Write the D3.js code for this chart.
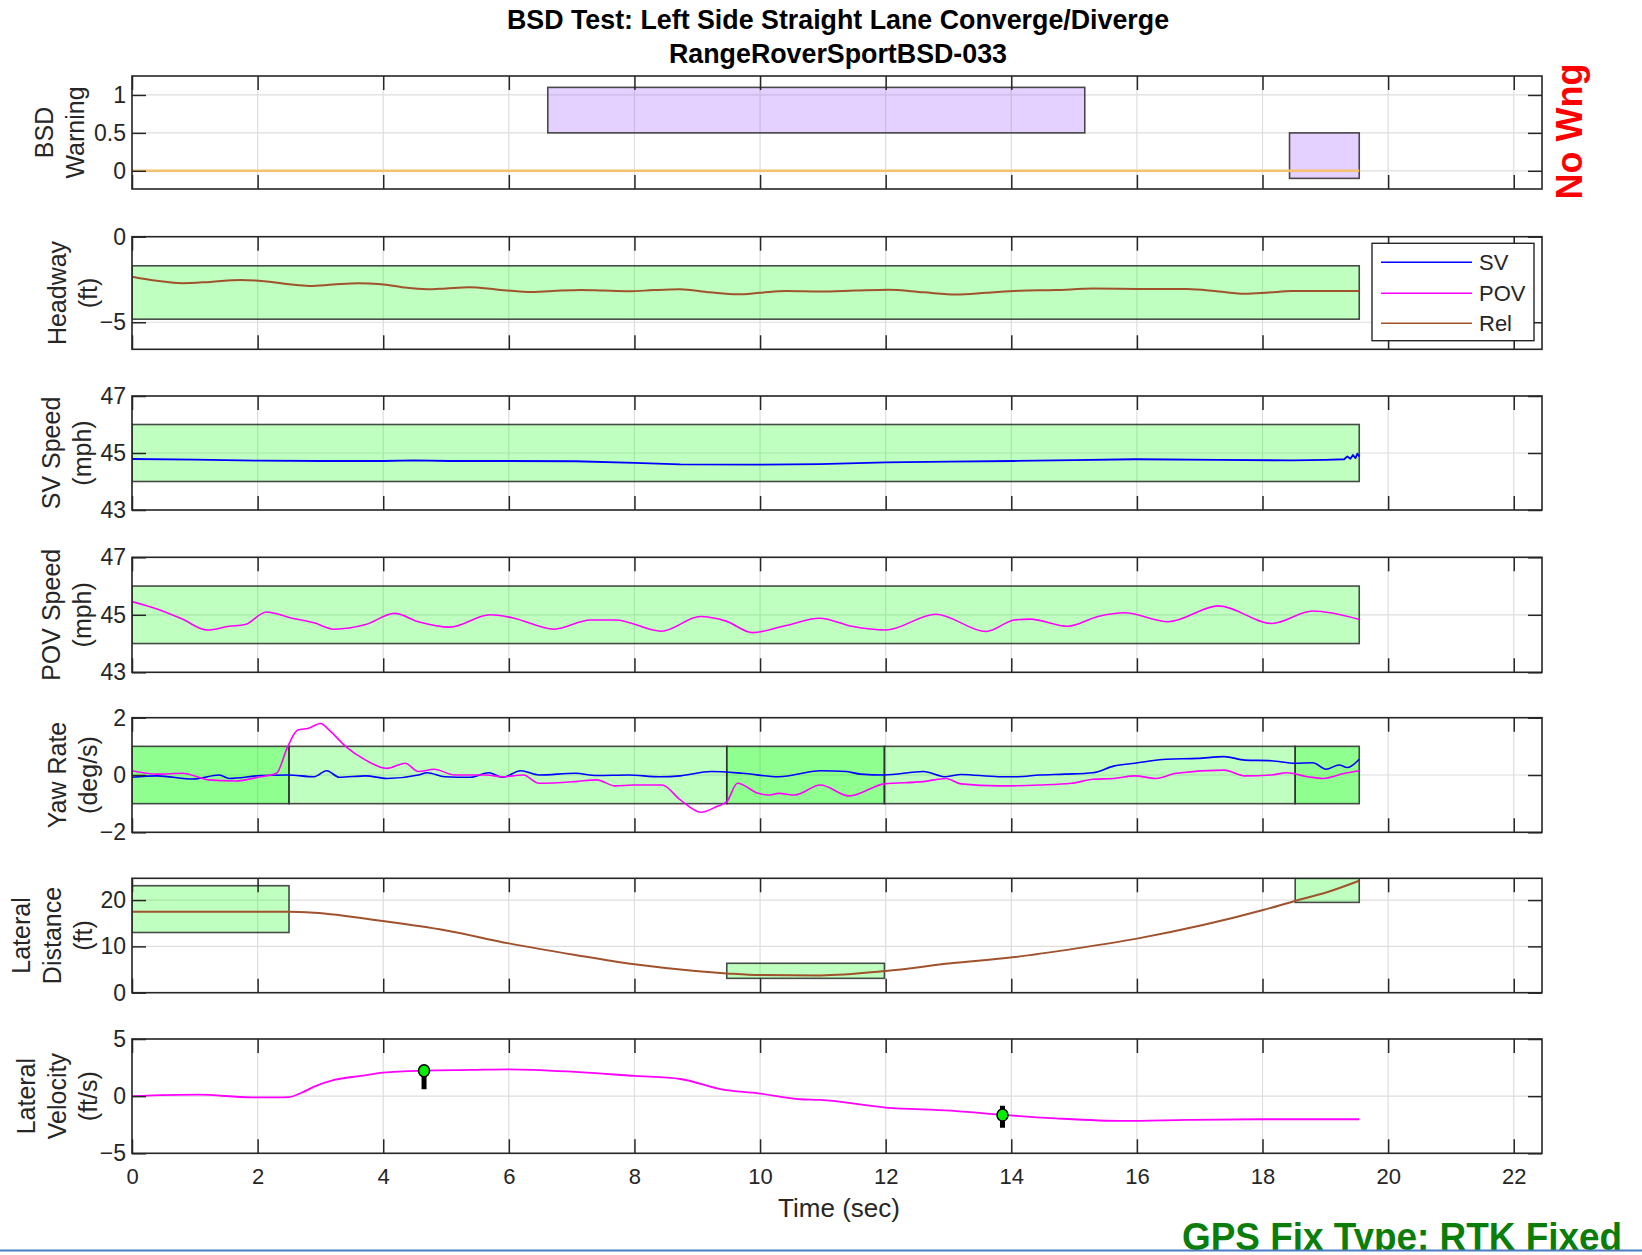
<!DOCTYPE html>
<html>
<head>
<meta charset="utf-8">
<script src="https://cdn.jsdelivr.net/npm/d3@7"></script>
<style>
  body { margin: 0; background: #fff; }
  text { font-family: "Liberation Sans", Arial, Helvetica, sans-serif; }
</style>
</head>
<body>
<svg id="chart"></svg>
<script>
const width = 1642;
const height = 1255;
const plotLeft = 132;
const plotRight = 1542;

// ---- data ----
const timeTicks = [0, 2, 4, 6, 8, 10, 12, 14, 16, 18, 20, 22];

const warnTime = [0, 19.54];
const warnValue = [0, 0];
const warnBoxStart = [6.62, 18.43];
const warnBoxEnd = [15.17, 19.54];
const warnBoxLow = [0.5, -0.1];
const warnBoxHigh = [1.1, 0.5];

const hwTime = [0, 0.4, 0.8, 1.25, 1.73, 2.1, 2.5, 2.82, 3.2, 3.6, 3.97, 4.3, 4.7, 5.0, 5.37, 5.8, 6.3, 6.7, 7.15, 7.5, 7.93, 8.3, 8.72, 9.2, 9.64, 10.0, 10.42, 10.96, 11.5, 12.04, 12.6, 13.13, 13.6, 14.13, 14.7, 15.3, 16.0, 16.8, 17.3, 17.72, 18.1, 18.47, 19.0, 19.54];
const hwValue = [-2.34, -2.58, -2.72, -2.64, -2.53, -2.6, -2.78, -2.88, -2.8, -2.72, -2.78, -2.95, -3.07, -3.02, -2.96, -3.08, -3.23, -3.17, -3.11, -3.15, -3.19, -3.12, -3.07, -3.25, -3.37, -3.28, -3.17, -3.2, -3.15, -3.1, -3.25, -3.38, -3.28, -3.16, -3.12, -3.03, -3.05, -3.06, -3.2, -3.33, -3.26, -3.18, -3.18, -3.18];
const hwBox = [0, 19.54, -4.82, -1.7];

const svTime = [0, 1, 2.05, 3, 4, 4.5, 5.06, 6, 7.06, 8, 8.73, 10, 10.95, 12, 13, 14.03, 15, 15.97, 17.3, 18.47, 19.0, 19.3, 19.35, 19.4, 19.44, 19.48, 19.51, 19.54];
const svValue = [44.79, 44.77, 44.73, 44.72, 44.72, 44.74, 44.72, 44.72, 44.71, 44.65, 44.6, 44.59, 44.61, 44.67, 44.7, 44.72, 44.75, 44.78, 44.76, 44.74, 44.76, 44.78, 44.88, 44.8, 44.93, 44.82, 44.98, 44.88];
const speedBox = [0, 19.54, 44, 46];

const povTime = [0, 0.4, 0.8, 1.2, 1.55, 1.8, 2.14, 2.55, 2.9, 3.22, 3.72, 4.18, 4.56, 5.06, 5.7, 6.05, 6.72, 7.3, 7.7, 8.43, 9.05, 9.46, 9.88, 10.4, 10.95, 11.46, 12.0, 12.8, 13.6, 14.05, 14.3, 14.9, 15.38, 15.8, 16.5, 17.3, 18.15, 18.8, 19.54];
const povValue = [45.46, 45.2, 44.85, 44.47, 44.6, 44.66, 45.1, 44.88, 44.72, 44.5, 44.66, 45.05, 44.76, 44.57, 45.0, 44.9, 44.5, 44.82, 44.82, 44.43, 44.94, 44.78, 44.38, 44.62, 44.88, 44.6, 44.47, 45.02, 44.42, 44.82, 44.85, 44.6, 44.94, 45.07, 44.76, 45.31, 44.7, 45.13, 44.84];

const yawSvTime = [0, 0.4, 0.98, 1.39, 1.55, 2.05, 2.48, 2.9, 3.1, 3.3, 3.72, 4.06, 4.56, 4.7, 4.98, 5.39, 5.68, 5.9, 6.19, 6.48, 7.06, 7.4, 7.9, 8.4, 8.73, 9.22, 9.72, 10.3, 10.96, 11.38, 11.6, 11.98, 12.6, 12.96, 13.2, 13.8, 14.1, 14.45, 14.85, 15.3, 15.63, 15.97, 16.47, 16.97, 17.39, 17.72, 18.14, 18.52, 18.8, 19.01, 19.22, 19.35, 19.54];
const yawSvValue = [-0.08, -0.03, -0.14, 0, -0.12, -0.02, 0, -0.06, 0.15, -0.08, -0.03, -0.12, 0, 0.08, -0.06, -0.08, 0.08, -0.08, 0.15, 0, 0.06, -0.02, 0, -0.06, -0.03, 0.12, 0.06, -0.06, 0.15, 0.12, 0.03, 0, 0.12, -0.06, 0.02, -0.06, -0.06, 0, 0.03, 0.08, 0.31, 0.41, 0.55, 0.58, 0.64, 0.52, 0.5, 0.41, 0.43, 0.2, 0.35, 0.26, 0.55];
const yawPovTime = [0, 0.4, 0.8, 1.22, 1.64, 2.05, 2.3, 2.48, 2.64, 2.81, 3.0, 3.14, 3.4, 3.72, 4.06, 4.35, 4.56, 4.81, 5.14, 5.64, 5.9, 6.23, 6.48, 7.06, 7.4, 7.69, 7.98, 8.44, 8.73, 9.06, 9.31, 9.47, 9.64, 9.97, 10.13, 10.3, 10.55, 10.96, 11.42, 11.98, 12.6, 12.96, 13.2, 13.8, 14.45, 14.96, 15.3, 15.63, 15.97, 16.3, 16.63, 17.39, 17.72, 18.14, 18.39, 18.72, 18.97, 19.31, 19.54];
const yawPovValue = [0.15, 0.03, 0.06, -0.17, -0.21, -0.06, 0.06, 1.0, 1.57, 1.63, 1.8, 1.57, 1.0, 0.52, 0.23, 0.41, 0.12, 0.2, 0, 0, -0.06, 0, -0.29, -0.23, -0.17, -0.38, -0.35, -0.35, -0.87, -1.3, -1.1, -0.93, -0.29, -0.64, -0.7, -0.64, -0.7, -0.35, -0.73, -0.31, -0.23, -0.12, -0.31, -0.38, -0.35, -0.29, -0.15, -0.12, -0.03, -0.12, 0.06, 0.17, -0.03, 0, 0.08, -0.06, -0.12, 0.06, 0.15];
const yawBoxStart = [0, 2.5, 9.47, 11.98, 18.52];
const yawBoxEnd = [2.5, 9.47, 11.98, 18.52, 19.54];
const yawBoxLayers = [2, 1, 2, 1, 2];

const latDistTime = [0, 2.5, 2.9, 4.0, 4.98, 6.0, 7.06, 8.0, 8.97, 9.47, 10.0, 10.96, 12.0, 13.04, 14.02, 15.04, 16.02, 17.05, 18.01, 18.53, 19.05, 19.54];
const latDistValue = [17.5, 17.5, 17.27, 15.47, 13.5, 10.65, 8.13, 6.12, 4.68, 4.17, 3.8, 3.74, 4.68, 6.34, 7.63, 9.57, 11.73, 14.6, 17.85, 19.86, 21.8, 24.17];
const latBoxStart = [0, 9.47, 18.52];
const latBoxEnd = [2.5, 11.98, 19.54];
const latBoxLow = [13, 3.1, 19.5];
const latBoxHigh = [23.1, 6.35, 24.7];

const latVelTime = [0, 1.06, 1.9, 2.3, 2.5, 2.7, 2.9, 3.22, 3.64, 4.0, 4.65, 5.39, 6.0, 7.06, 8.0, 8.73, 9.39, 9.97, 10.64, 10.96, 12.0, 13.04, 13.86, 14.7, 15.8, 16.8, 18.05, 19.54];
const latVelValue = [0, 0.13, -0.1, -0.1, -0.08, 0.3, 0.83, 1.42, 1.77, 2.06, 2.23, 2.29, 2.35, 2.12, 1.77, 1.5, 0.6, 0.25, -0.27, -0.33, -1.0, -1.27, -1.64, -1.94, -2.17, -2.08, -2.02, -2.02];
const eventTime = [4.65, 13.86];
const eventValue = [2.23, -1.64];
const eventStemTop = [2.23, -0.83];
const eventStemBottom = [0.6, -2.76];

const legendNames = ["SV", "POV", "Rel"];
const legendColors = ["#0000ff", "#ff00ff", "#a0522d"];

// ---- layout ----
const svg = d3.select("#chart").attr("width", width).attr("height", height);
svg.append("rect").attr("width", width).attr("height", height).attr("fill", "#fff");

const x = d3.scaleLinear().domain([0, 22.45]).range([plotLeft, plotRight]);

const panels = [
  { top: 76, bottom: 189, domain: [-0.24, 1.25], ticks: [0, 0.5, 1], labels: ["BSD", "Warning"], labelX: 53 },
  { top: 236.7, bottom: 349.3, domain: [-6.58, 0], ticks: [-5, 0], labels: ["Headway", "(ft)"], labelX: 66 },
  { top: 396, bottom: 510, domain: [43, 47], ticks: [43, 45, 47], labels: ["SV Speed", "(mph)"], labelX: 60 },
  { top: 557.3, bottom: 672.3, domain: [43, 47], ticks: [43, 45, 47], labels: ["POV Speed", "(mph)"], labelX: 60 },
  { top: 717.7, bottom: 832.3, domain: [-2, 2], ticks: [-2, 0, 2], labels: ["Yaw Rate", "(deg/s)"], labelX: 66 },
  { top: 878.3, bottom: 992.7, domain: [0, 24.7], ticks: [0, 10, 20], labels: ["Lateral", "Distance", "(ft)"], labelX: 29.5 },
  { top: 1039, bottom: 1153.3, domain: [-5, 5], ticks: [-5, 0, 5], labels: ["Lateral", "Velocity", "(ft/s)"], labelX: 35 }
];

function zip(ts, vs) {
  return ts.map((t, i) => [t, vs[i]]);
}

function drawBox(g, y, x0, x1, lo, hi, fill, opacity) {
  g.append("rect")
    .attr("x", x(x0))
    .attr("y", y(hi))
    .attr("width", x(x1) - x(x0))
    .attr("height", y(lo) - y(hi))
    .attr("fill", fill)
    .attr("fill-opacity", opacity)
    .attr("stroke", "#2b2b2b")
    .attr("stroke-opacity", 0.85)
    .attr("stroke-width", 1.6);
}

function drawLine(g, y, pts, color, w, curve) {
  g.append("path")
    .datum(pts)
    .attr("fill", "none")
    .attr("stroke", color)
    .attr("stroke-width", w)
    .attr("stroke-linejoin", "round")
    .attr("d", d3.line().x(d => x(d[0])).y(d => y(d[1])).curve(curve || d3.curveMonotoneX));
}

panels.forEach((p, i) => {
  const y = d3.scaleLinear().domain(p.domain).range([p.bottom, p.top]);
  p.y = y;
  const g = svg.append("g");
  p.g = g;

  g.append("clipPath").attr("id", "clip" + i)
    .append("rect")
    .attr("x", plotLeft).attr("y", p.top)
    .attr("width", plotRight - plotLeft).attr("height", p.bottom - p.top);

  // grid
  g.selectAll(".vgrid").data(timeTicks).join("line")
    .attr("class", "vgrid")
    .attr("x1", d => x(d)).attr("x2", d => x(d))
    .attr("y1", p.top).attr("y2", p.bottom)
    .attr("stroke", "#dedede").attr("stroke-width", 1.2);
  g.selectAll(".hgrid").data(p.ticks).join("line")
    .attr("class", "hgrid")
    .attr("x1", plotLeft).attr("x2", plotRight)
    .attr("y1", d => y(d)).attr("y2", d => y(d))
    .attr("stroke", "#dedede").attr("stroke-width", 1.2);

  p.layer = g.append("g").attr("clip-path", `url(#clip${i})`);
});

// BSD warning
{
  const p = panels[0];
  warnBoxStart.forEach((s, i) => drawBox(p.layer, p.y, s, warnBoxEnd[i], warnBoxLow[i], warnBoxHigh[i], "#9747ff", 0.25));
  drawLine(p.layer, p.y, zip(warnTime, warnValue), "#f5c16c", 2.5, d3.curveLinear);
}
// headway
{
  const p = panels[1];
  drawBox(p.layer, p.y, hwBox[0], hwBox[1], hwBox[2], hwBox[3], "#00ff00", 0.25);
  drawLine(p.layer, p.y, zip(hwTime, hwValue), "#a0522d", 2);
}
// SV speed
{
  const p = panels[2];
  drawBox(p.layer, p.y, speedBox[0], speedBox[1], speedBox[2], speedBox[3], "#00ff00", 0.25);
  drawLine(p.layer, p.y, zip(svTime, svValue), "#0000ff", 1.8, d3.curveLinear);
}
// POV speed
{
  const p = panels[3];
  drawBox(p.layer, p.y, speedBox[0], speedBox[1], speedBox[2], speedBox[3], "#00ff00", 0.25);
  drawLine(p.layer, p.y, zip(povTime, povValue), "#ff00ff", 1.6);
}
// yaw rate
{
  const p = panels[4];
  yawBoxStart.forEach((s, i) => {
    const op = 1 - Math.pow(0.75, yawBoxLayers[i]);
    drawBox(p.layer, p.y, s, yawBoxEnd[i], -1, 1, "#00ff00", op);
  });
  drawLine(p.layer, p.y, zip(yawSvTime, yawSvValue), "#0000ff", 1.6);
  drawLine(p.layer, p.y, zip(yawPovTime, yawPovValue), "#ff00ff", 1.6);
}
// lateral distance
{
  const p = panels[5];
  latBoxStart.forEach((s, i) => drawBox(p.layer, p.y, s, latBoxEnd[i], latBoxLow[i], latBoxHigh[i], "#00ff00", 0.25));
  drawLine(p.layer, p.y, zip(latDistTime, latDistValue), "#a0522d", 2);
}
// lateral velocity
{
  const p = panels[6];
  drawLine(p.layer, p.y, zip(latVelTime, latVelValue), "#ff00ff", 1.8);
  eventTime.forEach((t, i) => {
    p.layer.append("line")
      .attr("x1", x(t)).attr("x2", x(t))
      .attr("y1", p.y(eventStemTop[i])).attr("y2", p.y(eventStemBottom[i]))
      .attr("stroke", "#000").attr("stroke-width", 5);
    p.layer.append("ellipse")
      .attr("cx", x(t)).attr("cy", p.y(eventValue[i]))
      .attr("rx", 5.5).attr("ry", 6)
      .attr("fill", "#00ee00").attr("stroke", "#000").attr("stroke-width", 1.5);
  });
}

// axes, ticks, labels
panels.forEach((p, i) => {
  const g = p.g;
  const last = i === panels.length - 1;

  const left = g.append("g").attr("transform", `translate(${plotLeft},0)`)
    .call(d3.axisLeft(p.y).tickValues(p.ticks).tickSize(-14).tickSizeOuter(0).tickPadding(6).tickFormat(d3.format("")));
  const right = g.append("g").attr("transform", `translate(${plotRight},0)`)
    .call(d3.axisRight(p.y).tickValues(p.ticks).tickSize(-14).tickSizeOuter(0).tickFormat(""));
  const top = g.append("g").attr("transform", `translate(0,${p.top})`)
    .call(d3.axisTop(x).tickValues(timeTicks).tickSize(-14).tickSizeOuter(0).tickFormat(""));
  const bottom = g.append("g").attr("transform", `translate(0,${p.bottom})`)
    .call(d3.axisBottom(x).tickValues(timeTicks).tickSize(-14).tickSizeOuter(0).tickPadding(15)
      .tickFormat(last ? d3.format("") : ""));

  [left, right, top, bottom].forEach(a => {
    a.select(".domain").remove();
    a.selectAll(".tick line").attr("stroke", "#262626").attr("stroke-width", 1.5);
    a.selectAll(".tick text").attr("fill", "#262626");
  });
  left.selectAll(".tick text").style("font-size", "23px");
  bottom.selectAll(".tick text").style("font-size", "22px");

  g.append("rect")
    .attr("x", plotLeft).attr("y", p.top)
    .attr("width", plotRight - plotLeft).attr("height", p.bottom - p.top)
    .attr("fill", "none").attr("stroke", "#262626").attr("stroke-width", 1.6);

  const yc = (p.top + p.bottom) / 2;
  const lab = g.append("text")
    .attr("transform", `translate(${p.labelX},${yc}) rotate(-90)`)
    .attr("text-anchor", "middle")
    .attr("fill", "#262626")
    .style("font-size", "25px");
  p.labels.forEach((s, k) => {
    lab.append("tspan").attr("x", 0).attr("dy", k === 0 ? 0 : 31).text(s);
  });
});

// legend in headway panel
{
  const lg = svg.append("g");
  lg.append("rect")
    .attr("x", 1372).attr("y", 243.3).attr("width", 162).attr("height", 97.4)
    .attr("fill", "#fff").attr("stroke", "#262626").attr("stroke-width", 1.4);
  const rows = [262.3, 293.3, 323.3];
  legendNames.forEach((n, i) => {
    lg.append("line").attr("x1", 1381).attr("x2", 1472).attr("y1", rows[i]).attr("y2", rows[i])
      .attr("stroke", legendColors[i]).attr("stroke-width", 1.6);
    lg.append("text").attr("x", 1479).attr("y", rows[i]).attr("dy", "0.36em")
      .attr("fill", "#262626").style("font-size", "22px").text(n);
  });
}

// titles and notes
svg.append("text").attr("x", 838).attr("y", 29).attr("text-anchor", "middle")
  .style("font-size", "26.8px").style("font-weight", "bold").attr("fill", "#000")
  .text("BSD Test: Left Side Straight Lane Converge/Diverge");
svg.append("text").attr("x", 838).attr("y", 63).attr("text-anchor", "middle")
  .style("font-size", "26.8px").style("font-weight", "bold").attr("fill", "#000")
  .text("RangeRoverSportBSD-033");

svg.append("text").attr("x", 839).attr("y", 1217).attr("text-anchor", "middle")
  .style("font-size", "26px").attr("fill", "#262626").text("Time (sec)");

svg.append("text")
  .attr("transform", "translate(1582,131.5) rotate(-90)")
  .attr("text-anchor", "middle")
  .style("font-size", "36px").style("font-weight", "bold").attr("fill", "#ff0000")
  .text("No Wng");

svg.append("text").attr("x", 1182).attr("y", 1250)
  .attr("textLength", 440).attr("lengthAdjust", "spacingAndGlyphs")
  .style("font-size", "39px").style("font-weight", "bold").attr("fill", "#0b7d0b")
  .text("GPS Fix Type: RTK Fixed");

svg.append("rect").attr("x", 0).attr("y", 1251).attr("width", width).attr("height", 4).attr("fill", "#fff");
svg.append("line").attr("x1", 0).attr("x2", width).attr("y1", 1250.5).attr("y2", 1250.5)
  .attr("stroke", "#4a7cc4").attr("stroke-width", 2);
</script>
</body>
</html>
